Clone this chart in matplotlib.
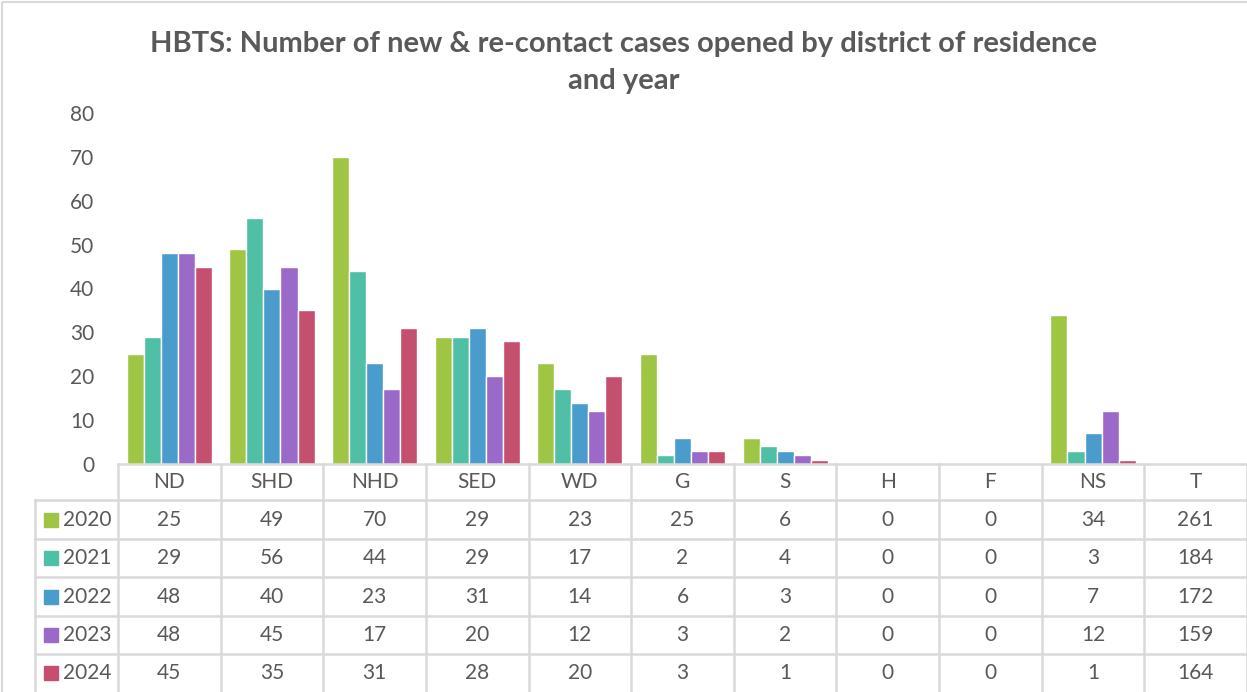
import matplotlib
matplotlib.use("Agg")
import matplotlib.pyplot as plt
import matplotlib.transforms as mtransforms
from matplotlib.patches import Rectangle

# data
districts = ["ND", "SHD", "NHD", "SED", "WD", "G", "S", "H", "F", "NS"]
columns = districts + ["T"]
years = ["2020", "2021", "2022", "2023", "2024"]
v2020 = [25, 49, 70, 29, 23, 25, 6, 0, 0, 34]
v2021 = [29, 56, 44, 29, 17, 2, 4, 0, 0, 3]
v2022 = [48, 40, 23, 31, 14, 6, 3, 0, 0, 7]
v2023 = [48, 45, 17, 20, 12, 3, 2, 0, 0, 12]
v2024 = [45, 35, 31, 28, 20, 3, 1, 0, 0, 1]
totals = [261, 184, 172, 159, 164]
series = [v2020, v2021, v2022, v2023, v2024]
colors = ["#9FC544", "#4FBFA5", "#4A9CCC", "#9B69C8", "#C44F6F"]

txt = "#595959"
grid = "#D9D9D9"
plt.rcParams["font.family"] = ["Lato", "DejaVu Sans"]

W, H = 1247, 692
fig = plt.figure(figsize=(W / 100, H / 100), dpi=100)

# overlay in pixel units for the table / border
tab = fig.add_axes([0, 0, 1, 1])
tab.set_xlim(0, W)
tab.set_ylim(H, 0)
tab.axis("off")
tab.add_patch(Rectangle((2, 2), W + 10, H + 10, fill=False, ec=grid, lw=1.5))

ax = fig.add_axes([118 / W, (H - 464) / H, (W - 118) / W, (464 - 113) / H])
ax.set_xlim(-0.5, len(columns) - 0.5)
ax.set_ylim(0, 80)
ax.set_yticks(range(0, 81, 10))
ax.set_xticks([])
for s in ["top", "right", "left"]:
    ax.spines[s].set_visible(False)
ax.spines["bottom"].set_color(grid)
ax.spines["bottom"].set_linewidth(1.8)
ax.tick_params(axis="y", length=0, pad=17, labelsize=15, labelcolor=txt)
ax.patch.set_alpha(0)

pitch = 0.166
x = range(len(districts))
for k, (vals, c) in enumerate(zip(series, colors)):
    off = (k - 2) * pitch
    ax.bar([i + off for i in x], vals, width=pitch, color=c,
           edgecolor="white", linewidth=1, clip_on=False)

fig.text(624 / W, 1 - 44 / H, "HBTS: Number of new & re-contact cases opened by district of residence",
         ha="center", va="center", fontsize=21, fontweight="bold", color=txt)
fig.text(624 / W, 1 - 81 / H, "and year",
         ha="center", va="center", fontsize=21, fontweight="bold", color=txt)

# data table below the axis
tr = mtransforms.blended_transform_factory(ax.transData, tab.transData)
header_y = 482
row_lines = [500, 539, 577, 616, 654]
row_y = [520, 558, 597, 635, 673]

for i in range(len(columns) + 1):
    tab.plot([i - 0.5, i - 0.5], [464, H], color=grid, lw=1.8, transform=tr, clip_on=False)
tab.plot([35, 35], [500, H], color=grid, lw=1.8)
for yl in row_lines:
    tab.plot([35, W], [yl, yl], color=grid, lw=1.8)

for i, name in enumerate(columns):
    tab.text(i, header_y, name, transform=tr, ha="center", va="center", fontsize=15, color=txt)

for r, (yr, vals, c) in enumerate(zip(years, series, colors)):
    tab.add_patch(Rectangle((44, row_y[r] - 7), 14, 14, color=c))
    tab.text(63, row_y[r], yr, ha="left", va="center", fontsize=15, color=txt)
    for i, v in enumerate(vals + [totals[r]]):
        tab.text(i, row_y[r], str(v), transform=tr, ha="center", va="center", fontsize=15, color=txt)

fig.savefig("out.png", dpi=100)
